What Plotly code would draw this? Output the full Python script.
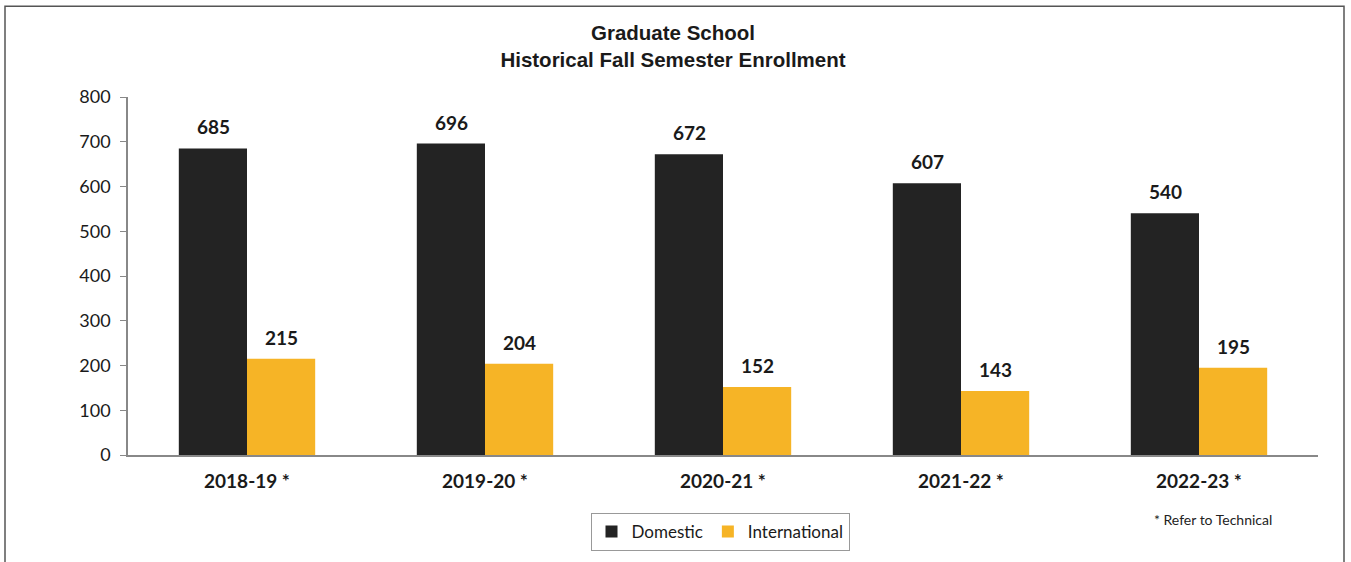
import plotly.graph_objects as go

categories = ["2018-19 *", "2019-20 *", "2020-21 *", "2021-22 *", "2022-23 *"]
domestic = [685, 696, 672, 607, 540]
international = [215, 204, 152, 143, 195]
y_ticks = [0, 100, 200, 300, 400, 500, 600, 700, 800]

W, H = 1351, 562
L, T = 128, 97
pw, ph = 1190, 359
R, B = W - L - pw, H - T - ph

def px_x(p):
    return (p - L) / pw

def px_y(p):
    return (T + ph - p) / ph

fig = go.Figure()
fig.add_trace(go.Bar(name="Domestic", x=categories, y=domestic,
                     marker=dict(color="#232323", line=dict(width=0))))
fig.add_trace(go.Bar(name="International", x=categories, y=international,
                     marker=dict(color="#F6B426", line=dict(width=0))))

FONT = "Lato, Open Sans, sans-serif"
lab_font = dict(family=FONT, size=19, color="#1a1a1a")
for c, v in zip(categories, domestic):
    fig.add_annotation(x=c, y=v, xref="x", yref="y", text=f"<b>{v}</b>", showarrow=False,
                       xshift=-34, yanchor="bottom", yshift=8, font=lab_font)
for c, v in zip(categories, international):
    fig.add_annotation(x=c, y=v, xref="x", yref="y", text=f"<b>{v}</b>", showarrow=False,
                       xshift=34, yanchor="bottom", yshift=8, font=lab_font)

fig.add_annotation(xref="paper", yref="paper", x=px_x(1152), y=px_y(521), xanchor="left",
                   yanchor="middle", text="* Refer to Technical", showarrow=False,
                   font=dict(family=FONT, size=14, color="#222"))

fig.add_shape(type="rect", xref="paper", yref="paper",
              x0=px_x(5), x1=px_x(1344), y0=px_y(600), y1=px_y(6),
              line=dict(color="#555", width=1.5), layer="below")

fig.update_layout(
    width=W, height=H,
    margin=dict(l=L, r=R, t=T, b=B),
    paper_bgcolor="white", plot_bgcolor="white",
    barmode="group", bargap=0.427, bargroupgap=0,
    title=dict(text="<b>Graduate School<br>Historical Fall Semester Enrollment</b>",
               x=px_x(673), xanchor="center", xref="paper", y=1 - 40 / H, yanchor="middle",
               font=dict(family="Liberation Sans, Arial, sans-serif", size=20.5, color="#1a1a1a")),
    legend=dict(orientation="h", x=px_x(720), xanchor="center", y=px_y(513), yanchor="top",
                bordercolor="#999", borderwidth=1, bgcolor="white",
                font=dict(family=FONT, size=17, color="#1a1a1a"),
                itemwidth=30, traceorder="normal"),
    xaxis=dict(showline=True, linecolor="#888", linewidth=1.5, ticks="", showgrid=False,
               ticklabelstandoff=8,
               tickfont=dict(family=FONT, size=19, color="#1a1a1a", weight="bold")),
    yaxis=dict(range=[0, 800], tickvals=y_ticks, showline=True, linecolor="#888", linewidth=1.5,
               ticks="outside", ticklen=6, tickcolor="#888", showgrid=False, zeroline=False,
               ticklabelstandoff=6,
               tickfont=dict(family=FONT, size=18, color="#1a1a1a")),
)

fig.write_html("out.html", config={"displayModeBar": False},
               post_script="document.body.style.margin='0';document.body.style.padding='0';")
